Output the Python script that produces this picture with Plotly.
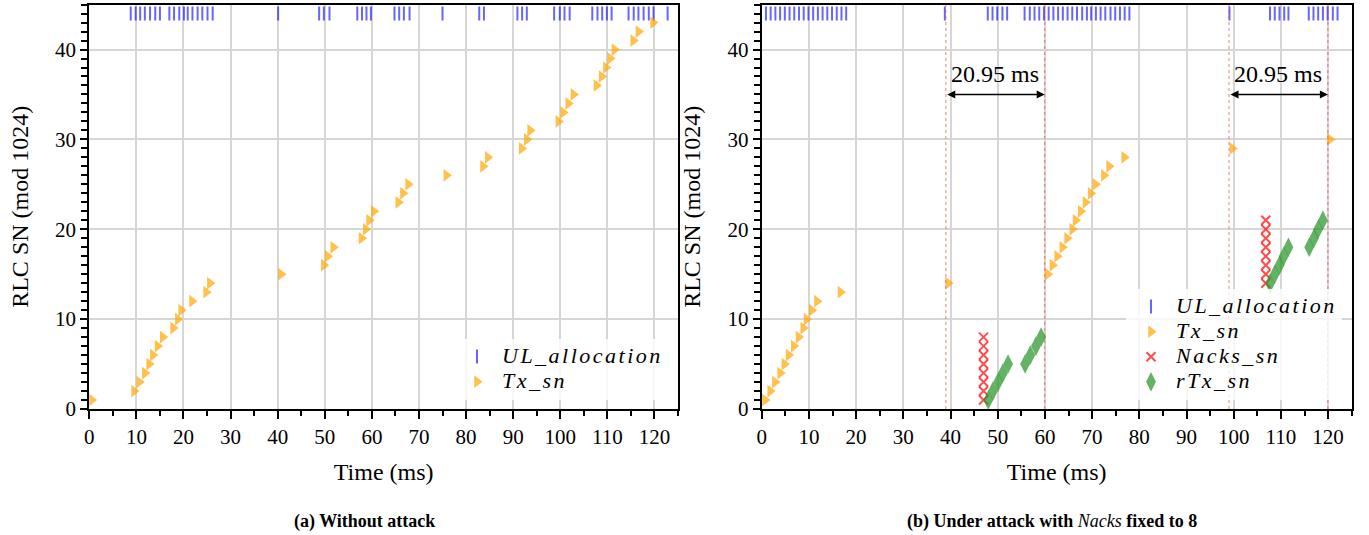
import plotly.graph_objects as go

# ---------------- data: (a) without attack ----------------
alloc_a_t = [8.8, 9.85, 10.8, 11.8, 12.9, 14.0, 15.0, 17.0, 18.0, 19.1, 20.1, 20.9, 21.9,
             23.0, 24.0, 25.1, 26.2, 40.1, 48.8, 49.8, 51.0, 56.9, 57.9, 58.85, 59.8,
             64.8, 65.8, 66.8, 68.0, 75.0, 82.8, 83.8, 90.9, 91.9, 92.9, 98.7, 99.9,
             100.9, 102.0, 106.8, 107.9, 108.9, 109.9, 110.9, 114.5, 115.6, 116.6,
             117.7, 118.8, 119.8, 122.8]
alloc_level = 44

tx_a_t = [0.5, 9.5, 10.6, 11.8, 12.7, 13.5, 14.5, 15.6, 17.8, 18.8, 19.5, 21.8, 24.8, 25.6,
          40.7, 49.8, 50.6, 51.8, 57.8, 58.7, 59.4, 60.4, 65.6, 66.6, 67.7, 75.8, 83.6,
          84.6, 91.8, 92.9, 93.6, 99.6, 100.6, 101.7, 102.8, 107.7, 108.8, 109.7, 110.6,
          111.5, 115.5, 116.6, 119.7]
tx_a_sn = [1, 2, 3, 4, 5, 6, 7, 8, 9, 10, 11, 12, 13, 14, 15, 16, 17, 18, 19, 20, 21, 22,
           23, 24, 25, 26, 27, 28, 29, 30, 31, 32, 33, 34, 35, 36, 37, 38, 39, 40, 41, 42, 43]

# ---------------- data: (b) under attack ----------------
alloc_b_t = [0.9, 1.9, 2.9, 3.9, 4.9, 5.9, 6.9, 7.9, 8.9, 9.9, 10.9, 11.9, 12.9, 13.9, 14.9,
             15.9, 16.9, 17.9, 38.8, 47.9, 48.9, 49.9, 51.0, 52.0, 55.7, 56.8, 57.8, 58.8,
             59.8, 60.8, 61.8, 62.8, 63.8, 64.8, 65.8, 66.8, 67.9, 68.9, 69.8, 70.8, 71.8,
             72.8, 73.9, 74.9, 75.9, 76.9, 77.9, 99.1, 107.7, 108.7, 109.7, 110.7, 111.6,
             115.9, 116.9, 117.9, 118.9, 119.9, 121.0, 122.0]

tx_b_t = [0.7, 1.8, 2.8, 3.9, 4.8, 5.7, 6.8, 7.8, 8.8, 9.5, 10.6, 11.7, 16.7, 39.5, 60.6,
          61.6, 62.6, 63.7, 64.7, 65.8, 66.5, 67.6, 68.6, 69.7, 70.7, 72.5, 73.6, 76.8,
          99.7, 120.4]
tx_b_sn = [1, 2, 3, 4, 5, 6, 7, 8, 9, 10, 11, 12, 13, 14, 15, 16, 17, 18, 19, 20, 21, 22,
           23, 24, 25, 26, 27, 28, 29, 30]

nack_b_t = [47.0, 47.0, 47.0, 47.0, 47.0, 47.0, 47.0, 47.0,
            106.8, 106.8, 106.8, 106.8, 106.8, 106.8, 106.8, 106.8]
nack_b_sn = [1, 2, 3, 4, 5, 6, 7, 8, 14, 15, 16, 17, 18, 19, 20, 21]

rtx_b_t = [48.0, 49.0, 50.1, 51.1, 52.2, 55.8, 56.9, 58.1, 59.2,
           107.7, 108.7, 109.7, 110.6, 111.6, 116.0, 117.0, 117.9, 118.9]
rtx_b_sn = [1, 2, 3, 4, 5, 5, 6, 7, 8, 14, 15, 16, 17, 18, 18, 19, 20, 21]

attack_lines = [39.0, 59.95, 99.0, 119.95]
arrow_level = 35
arrow_text_level = 37.3

x_ticks = [0, 10, 20, 30, 40, 50, 60, 70, 80, 90, 100, 110, 120]
y_ticks = [0, 10, 20, 30, 40]

# ---------------- styles ----------------
FONT = "Liberation Serif"
C_ALLOC = "rgba(0,0,255,0.6)"
C_TX = "rgba(255,165,0,0.7)"
C_NACK = "rgba(255,0,0,0.7)"
C_RTX = "rgba(40,150,40,0.72)"
LEG_STYLE = "letter-spacing:2.5px;font-size:22px"

fig = go.Figure()


def leg_name(s):
    return f'<span style="{LEG_STYLE}"><i>{s}</i></span>'


def add_alloc(t, xa, ya, leg):
    fig.add_trace(go.Scatter(x=t, y=[alloc_level] * len(t), mode="markers", xaxis=xa, yaxis=ya,
                             name=leg_name("UL_allocation"), legend=leg,
                             marker=dict(symbol="line-ns", size=10,
                                         line=dict(width=2, color=C_ALLOC), color=C_ALLOC)))


def add_tx(t, sn, xa, ya, leg):
    fig.add_trace(go.Scatter(x=t, y=sn, mode="markers", xaxis=xa, yaxis=ya,
                             name=leg_name("Tx_sn"), legend=leg,
                             marker=dict(symbol="triangle-right", size=11, color=C_TX,
                                         line=dict(width=0))))


add_alloc(alloc_a_t, "x", "y", "legend")
add_tx(tx_a_t, tx_a_sn, "x", "y", "legend")
add_alloc(alloc_b_t, "x2", "y2", "legend2")
add_tx(tx_b_t, tx_b_sn, "x2", "y2", "legend2")
fig.add_trace(go.Scatter(x=nack_b_t, y=nack_b_sn, mode="markers", xaxis="x2", yaxis="y2",
                         name=leg_name("Nacks_sn"), legend="legend2",
                         marker=dict(symbol="x-thin", size=9, color=C_NACK,
                                     line=dict(width=2, color=C_NACK))))
fig.add_trace(go.Scatter(x=rtx_b_t, y=rtx_b_sn, mode="markers", xaxis="x2", yaxis="y2",
                         name=leg_name("rTx_sn"), legend="legend2",
                         marker=dict(symbol="diamond-tall", size=14, color=C_RTX,
                                     line=dict(width=0))))

# attack markers
for xv in attack_lines:
    fig.add_shape(type="line", xref="x2", yref="y2 domain", x0=xv, x1=xv, y0=0, y1=1,
                  line=dict(color="rgba(255,60,60,0.45)", width=1.5, dash="dot"), layer="above")
for a, b in zip(attack_lines[0::2], attack_lines[1::2]):
    fig.add_annotation(x=b, y=arrow_level, ax=a, ay=arrow_level, xref="x2", yref="y2",
                       axref="x2", ayref="y2", text="", showarrow=True, arrowhead=2,
                       arrowside="end+start", arrowsize=1, arrowwidth=1.6, arrowcolor="black",
                       standoff=0, startstandoff=0)
    fig.add_annotation(x=(a + b) / 2, y=arrow_text_level, xref="x2", yref="y2",
                       text=f"{b - a:.2f} ms", showarrow=False, xanchor="center",
                       font=dict(family=FONT, size=24, color="black"))

axis_common = dict(range=[0, 125], tickvals=x_ticks, ticks="outside", ticklen=8, tickwidth=2,
                   tickcolor="black", showline=True, linecolor="black", linewidth=2,
                   mirror=True, showgrid=True, gridcolor="#d6d6d6", gridwidth=1.8,
                   zeroline=False, automargin=False,
                   tickfont=dict(family=FONT, size=21, color="black"),
                   minor=dict(dtick=5, tick0=0, ticks="outside", ticklen=5, tickwidth=1.5,
                              tickcolor="black", showgrid=False),
                   title=dict(text="Time (ms)", font=dict(family=FONT, size=24, color="black"),
                              standoff=15))
yaxis_common = dict(range=[0, 45], tickvals=y_ticks, ticks="outside", ticklen=7, tickwidth=2,
                    tickcolor="black", showline=True, linecolor="black", linewidth=2,
                    mirror=True, showgrid=True, gridcolor="#d6d6d6", gridwidth=1.8,
                    zeroline=False, automargin=False,
                    tickfont=dict(family=FONT, size=21, color="black"),
                    minor=dict(dtick=1, tick0=0, ticks="outside", ticklen=6, tickwidth=1.5,
                               tickcolor="black", showgrid=False),
                    title=dict(text="RLC SN (mod 1024)",
                               font=dict(family=FONT, size=24, color="black"), standoff=20))

legend_common = dict(xanchor="right", yanchor="bottom", bgcolor="rgba(255,255,255,0.8)",
                     borderwidth=0, itemwidth=40, tracegroupgap=0,
                     font=dict(family=FONT, size=17, color="black"))

ydom = [1 - 409 / 535, 1 - 4.6 / 535]
fig.update_layout(
    width=1369, height=535,
    margin=dict(l=0, r=0, t=0, b=0),
    paper_bgcolor="white", plot_bgcolor="white",
    font=dict(family=FONT, color="black"),
    xaxis=dict(domain=[89.3 / 1369, 678 / 1369], anchor="y", **axis_common),
    yaxis=dict(domain=ydom, anchor="x", **yaxis_common),
    xaxis2=dict(domain=[761.7 / 1369, 1351.7 / 1369], anchor="y2", **axis_common),
    yaxis2=dict(domain=ydom, anchor="x2", **yaxis_common),
    legend=dict(x=668 / 1369, y=1 - 400 / 535, **legend_common),
    legend2=dict(x=1342 / 1369, y=1 - 400 / 535, **legend_common),
    showlegend=True,
)

fig.add_annotation(x=365 / 1369, y=1 - 521 / 535, xref="paper", yref="paper",
                   xanchor="center", yanchor="middle",
                   text="<b>(a) Without attack</b>", showarrow=False,
                   font=dict(family=FONT, size=18, color="black"))
fig.add_annotation(x=1052 / 1369, y=1 - 521 / 535, xref="paper", yref="paper",
                   xanchor="center", yanchor="middle",
                   text="<b>(b) Under attack with </b><i>Nacks</i><b> fixed to 8</b>",
                   showarrow=False, font=dict(family=FONT, size=18, color="black"))

fig.write_html("out.html", config={"displayModeBar": False},
               post_script="document.body.style.margin='0px';")
